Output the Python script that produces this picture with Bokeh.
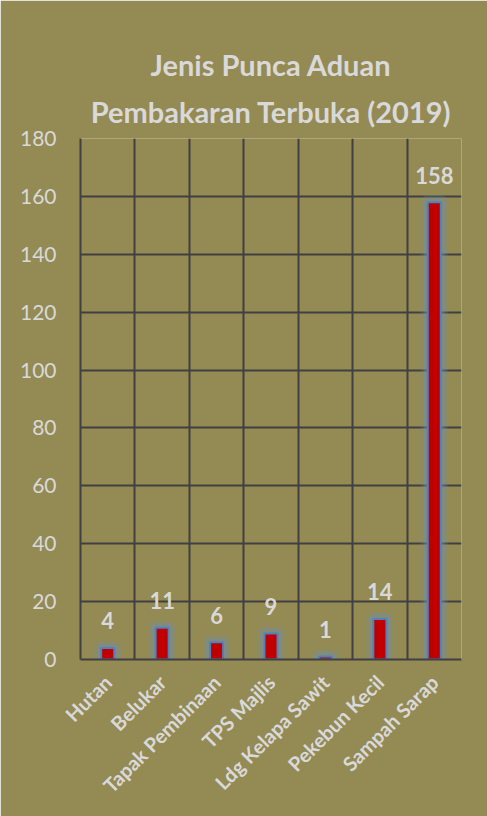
from bokeh.plotting import figure
from bokeh.models import Range1d, FixedTicker, ColumnDataSource, Title
from bokeh.core.properties import value
from bokeh.embed import file_html
from bokeh.resources import INLINE

categories = ["Hutan", "Belukar", "Tapak Pembinaan", "TPS Majlis",
              "Ldg Kelapa Sawit", "Pekebun Kecil", "Sampah Sarap"]
counts = [4, 11, 6, 9, 1, 14, 158]
y_ticks = [0, 20, 40, 60, 80, 100, 120, 140, 160, 180]
title_lines = ["Jenis Punca Aduan", "Pembakaran Terbuka (2019)"]

BG = "#948A54"
TXT = "#D9D9D9"
GRID = "#404040"
FONT = "Lato"

xs = [i + 0.5 for i in range(len(categories))]
src = ColumnDataSource(dict(x=xs, top=counts, lab=[str(c) for c in counts]))

p = figure(width=487, height=816, output_backend="svg", toolbar_location=None,
           x_range=Range1d(0, len(categories)), y_range=Range1d(y_ticks[0], y_ticks[-1]),
           min_border_left=80, min_border_right=26, min_border_top=138, min_border_bottom=157)
p.background_fill_color = BG
p.border_fill_color = BG
p.outline_line_color = None

def style_title(t, standoff):
    t.align = "center"
    t.text_font = FONT
    t.text_font_size = "29px"
    t.text_font_style = "bold"
    t.text_color = TXT
    t.offset = -7
    t.standoff = standoff

# outer line (first line of the title)
p.title.text = title_lines[0]
style_title(p.title, 2)
# inner line (second line, nearest the plot)
t2 = Title(text=title_lines[1])
style_title(t2, 19)
p.add_layout(t2, "above")

# grids
p.ygrid.ticker = FixedTicker(ticks=y_ticks)
p.ygrid.grid_line_color = GRID
p.ygrid.grid_line_width = 2
p.xgrid.ticker = FixedTicker(ticks=list(range(len(categories) + 1)))
p.xgrid.grid_line_color = GRID
p.xgrid.grid_line_width = 2

# y axis
p.yaxis.ticker = FixedTicker(ticks=y_ticks)
p.yaxis.axis_line_color = GRID
p.yaxis.axis_line_width = 2
p.yaxis.major_tick_line_color = None
p.yaxis.minor_tick_line_color = None
p.yaxis.major_label_text_font = FONT
p.yaxis.major_label_text_font_size = "21px"
p.yaxis.major_label_text_color = TXT
p.yaxis.major_label_standoff = 18

# x axis
p.xaxis.ticker = FixedTicker(ticks=xs)
p.xaxis.major_label_overrides = {x: c for x, c in zip(xs, categories)}
p.xaxis.axis_line_color = GRID
p.xaxis.axis_line_width = 2
p.xaxis.major_tick_line_color = None
p.xaxis.minor_tick_line_color = None
p.xaxis.major_label_orientation = 0.785398
p.xaxis.major_label_text_font = FONT
p.xaxis.major_label_text_font_size = "20px"
p.xaxis.major_label_text_font_style = "bold"
p.xaxis.major_label_text_color = TXT
p.xaxis.major_label_standoff = 13

# glow
p.vbar(x="x", top="top", width=0.24, source=src, fill_color=None,
       line_color="#6A90B8", line_alpha=0.2, line_width=14, line_join="round")
p.vbar(x="x", top="top", width=0.24, source=src, fill_color=None,
       line_color="#6A90B8", line_alpha=0.32, line_width=8, line_join="round")
# bars
p.vbar(x="x", top="top", width=0.24, source=src, fill_color="#C00000",
       line_color="#4F81BD", line_width=2)

p.text(x="x", y="top", text="lab", source=src, text_align="center",
       text_baseline="alphabetic", y_offset=-27,
       text_font=value(FONT), text_font_size="22px", text_font_style="bold",
       text_color=TXT)

open("out.html", "w").write(file_html(p, INLINE))
